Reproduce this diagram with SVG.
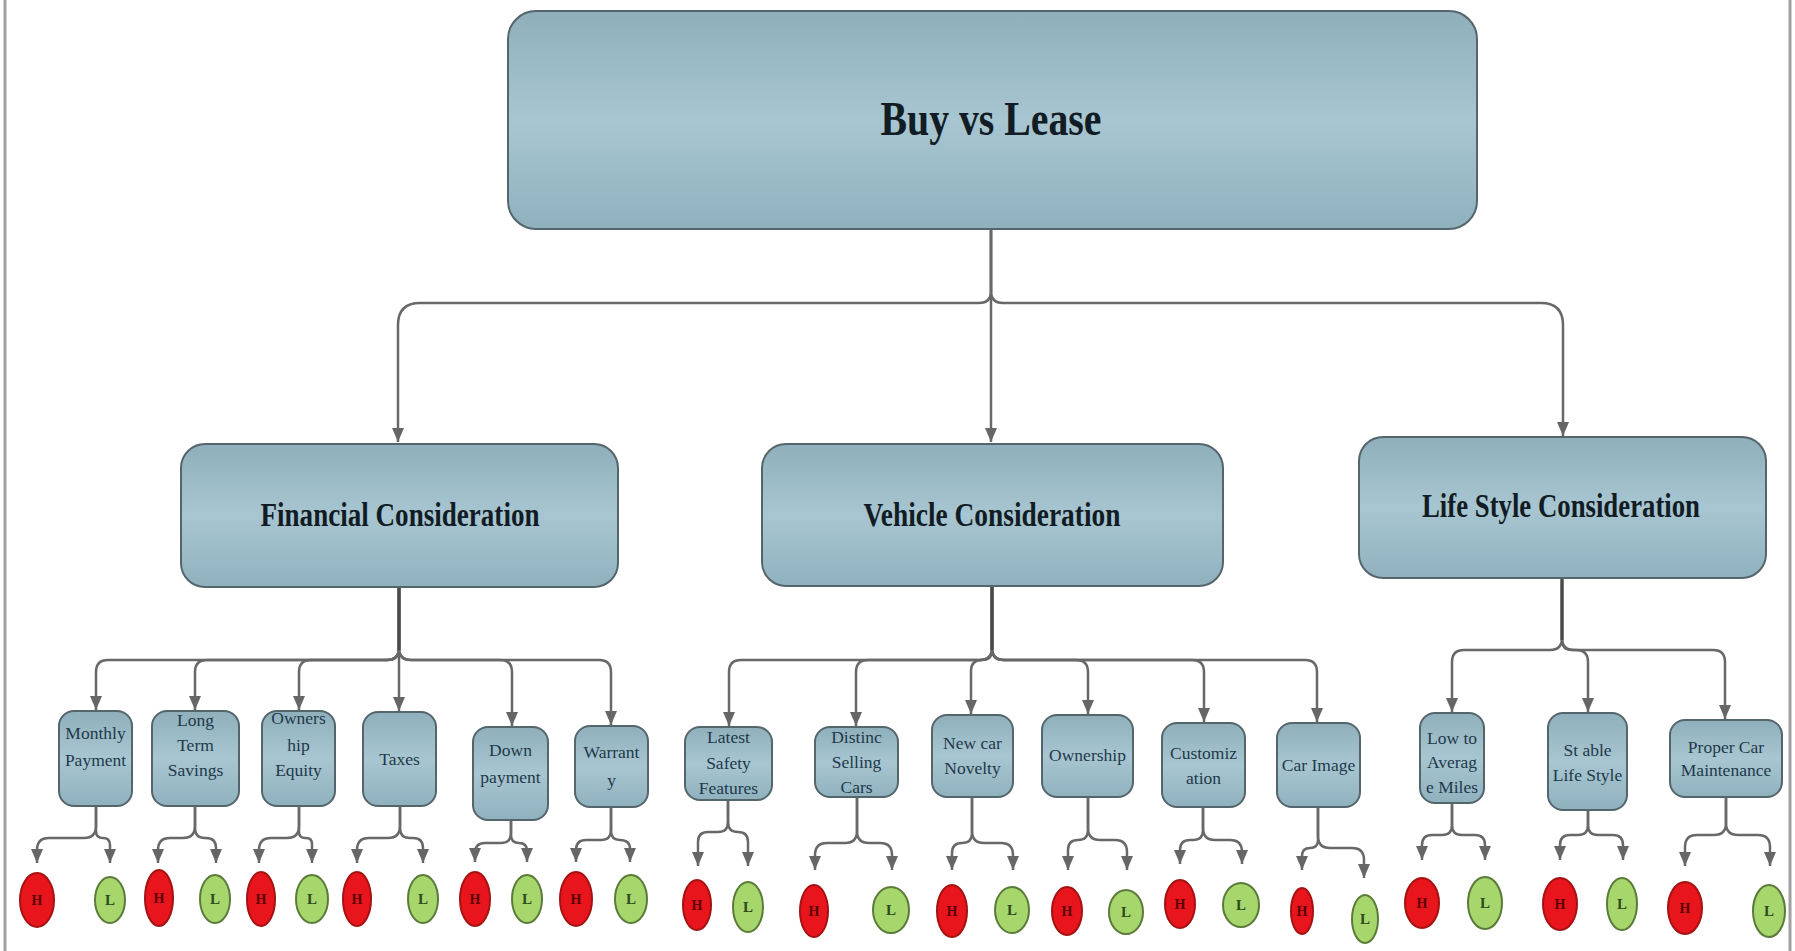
<svg xmlns="http://www.w3.org/2000/svg" width="1795" height="951" viewBox="0 0 1795 951">
<style>
.box{fill:url(#g);stroke:#55656c;stroke-width:2}
.t1{font-family:"Liberation Serif",serif;font-weight:bold;fill:#121c24;text-anchor:middle}
.t2{font-family:"Liberation Serif",serif;font-size:17.5px;fill:#22394a;text-anchor:middle}
.c{fill:none;stroke:#686868;stroke-width:2.5;marker-end:url(#ah)}
.cv{fill:none;stroke:#4a4a4a;stroke-width:3}
.h{fill:#e8161c;stroke:#a51212;stroke-width:2}
.l{fill:#a7d76c;stroke:#5b7b3a;stroke-width:2}
.ht{font-family:"Liberation Serif",serif;font-size:14px;font-weight:bold;fill:#5a0000;text-anchor:middle}
.lt{font-family:"Liberation Serif",serif;font-size:15px;font-weight:bold;fill:#2f4a1c;text-anchor:middle}
</style>
<defs>
<linearGradient id="g" x1="0" y1="0" x2="0" y2="1">
<stop offset="0" stop-color="#8eafbb"/>
<stop offset="0.5" stop-color="#a8c6d1"/>
<stop offset="1" stop-color="#8fb1be"/>
</linearGradient>
<marker id="ah" viewBox="0 0 14 12" refX="14" refY="6" markerWidth="14" markerHeight="12" markerUnits="userSpaceOnUse" orient="auto">
<path d="M0,0 L14,6 L0,12 z" fill="#666"/>
</marker>
</defs>
<rect width="1795" height="951" fill="#fff"/>
<line x1="5" y1="0" x2="5" y2="951" stroke="#a0a0a0" stroke-width="3"/>
<line x1="1790" y1="0" x2="1790" y2="951" stroke="#a0a0a0" stroke-width="3"/>

<g id="connectors">
<path class="c" d="M991,229 V291 Q991,303 979,303 H420 Q398,303 398,325 V442"/>
<path class="c" d="M991,229 V442"/>
<path class="c" d="M991,229 V291 Q991,303 1003,303 H1541 Q1563,303 1563,325 V436"/>

<path class="c" d="M399,587 V648 Q399,660 387,660 H108 Q96,660 96,672 V710"/>
<path class="c" d="M399,587 V648 Q399,660 387,660 H207 Q195,660 195,672 V710"/>
<path class="c" d="M399,587 V648 Q399,660 387,660 H311 Q299,660 299,672 V710"/>
<path class="c" d="M399,587 V711"/>
<path class="c" d="M399,587 V648 Q399,660 411,660 H500 Q512,660 512,672 V726"/>
<path class="c" d="M399,587 V648 Q399,660 411,660 H599 Q611,660 611,672 V725"/>
<path class="cv" d="M399,588 V650"/>

<path class="c" d="M992,586 V648 Q992,660 980,660 H741 Q729,660 729,672 V726"/>
<path class="c" d="M992,586 V648 Q992,660 980,660 H868 Q856,660 856,672 V726"/>
<path class="c" d="M992,586 V650 Q992,660 982,660 Q971,660 971,671 V714"/>
<path class="c" d="M992,586 V648 Q992,660 1004,660 H1076 Q1088,660 1088,672 V714"/>
<path class="c" d="M992,586 V648 Q992,660 1004,660 H1192 Q1204,660 1204,672 V722"/>
<path class="c" d="M992,586 V648 Q992,660 1004,660 H1305 Q1317,660 1317,672 V722"/>
<path class="cv" d="M992,587 V650"/>

<path class="c" d="M1562,578 V638 Q1562,650 1550,650 H1464 Q1452,650 1452,662 V712"/>
<path class="c" d="M1562,578 V640 Q1562,650 1572,650 H1576 Q1588,650 1588,662 V712"/>
<path class="c" d="M1562,578 V638 Q1562,650 1574,650 H1713 Q1725,650 1725,662 V719"/>
<path class="cv" d="M1562,579 V640"/>

<path class="c" d="M96,806 V826 Q96,838 84,838 H49 Q37,838 37,850 V863"/>
<path class="c" d="M96,806 V831 Q96,838 103,838 Q110,838 110,845 V863"/>
<path class="c" d="M195,806 V826 Q195,838 183,838 H170 Q158,838 158,850 V863"/>
<path class="c" d="M195,806 V828 Q195,838 205,838 H206 Q216,838 216,848 V863"/>
<path class="c" d="M299,806 V826 Q299,838 287,838 H271 Q259,838 259,850 V863"/>
<path class="c" d="M299,806 V832 Q299,838 305,838 H306 Q312,838 312,844 V863"/>
<path class="c" d="M400,806 V826 Q400,838 388,838 H369 Q357,838 357,850 V863"/>
<path class="c" d="M400,806 V828 Q400,838 410,838 H413 Q423,838 423,848 V863"/>
<path class="c" d="M511,820 V833 Q511,843 501,843 H485 Q475,843 475,853 V862"/>
<path class="c" d="M511,820 V835 Q511,843 519,843 Q527,843 527,851 V862"/>
<path class="c" d="M611,807 V830 Q611,840 601,840 H586 Q576,840 576,850 V862"/>
<path class="c" d="M611,807 V831 Q611,840 620,840 Q630,840 630,849 V862"/>

<path class="c" d="M728,800 V822 Q728,832 718,832 H708 Q698,832 698,842 V866"/>
<path class="c" d="M728,800 V822 Q728,832 738,832 Q748,832 748,842 V866"/>
<path class="c" d="M857,797 V831 Q857,843 845,843 H827 Q815,843 815,855 V870"/>
<path class="c" d="M857,797 V831 Q857,843 869,843 H880 Q892,843 892,855 V870"/>
<path class="c" d="M972,797 V833 Q972,843 962,843 Q952,843 952,853 V870"/>
<path class="c" d="M972,797 V831 Q972,843 984,843 H1001 Q1013,843 1013,855 V870"/>
<path class="c" d="M1088,797 V830 Q1088,840 1078,840 Q1068,840 1068,850 V870"/>
<path class="c" d="M1088,797 V828 Q1088,840 1100,840 H1115 Q1127,840 1127,852 V870"/>
<path class="c" d="M1203,807 V830 Q1203,840 1193,840 H1190 Q1180,840 1180,850 V864"/>
<path class="c" d="M1203,807 V828 Q1203,840 1215,840 H1230 Q1242,840 1242,852 V864"/>
<path class="c" d="M1318,807 V840 Q1318,848 1310,848 Q1302,848 1302,856 V870"/>
<path class="c" d="M1318,807 V836 Q1318,848 1330,848 H1352 Q1364,848 1364,860 V878"/>

<path class="c" d="M1452,803 V825 Q1452,835 1442,835 H1432 Q1422,835 1422,845 V860"/>
<path class="c" d="M1452,803 V825 Q1452,835 1462,835 H1475 Q1485,835 1485,845 V860"/>
<path class="c" d="M1588,810 V825 Q1588,835 1578,835 H1570 Q1560,835 1560,845 V860"/>
<path class="c" d="M1588,810 V825 Q1588,835 1598,835 H1613 Q1623,835 1623,845 V860"/>
<path class="c" d="M1726,797 V823 Q1726,835 1714,835 H1697 Q1685,835 1685,847 V866"/>
<path class="c" d="M1726,797 V823 Q1726,835 1738,835 H1758 Q1770,835 1770,847 V866"/>
</g>

<g id="root">
<rect class="box" x="508" y="11" width="969" height="218" rx="28"/>
<text class="t1" x="991" y="135" font-size="48" textLength="221" lengthAdjust="spacingAndGlyphs">Buy vs Lease</text>
</g>

<g id="financial">
<rect class="box" x="181" y="444" width="437" height="143" rx="24"/>
<text class="t1" x="400" y="526" font-size="34" textLength="279" lengthAdjust="spacingAndGlyphs">Financial Consideration</text>
</g>
<g id="vehicle">
<rect class="box" x="762" y="444" width="461" height="142" rx="24"/>
<text class="t1" x="992" y="526" font-size="34" textLength="257" lengthAdjust="spacingAndGlyphs">Vehicle Consideration</text>
</g>
<g id="lifestyle">
<rect class="box" x="1359" y="437" width="407" height="141" rx="24"/>
<text class="t1" x="1561" y="517" font-size="34" textLength="278" lengthAdjust="spacingAndGlyphs">Life Style Consideration</text>
</g>

<g id="monthly-payment">
<rect class="box" x="59" y="711" width="73" height="95" rx="15"/>
<text class="t2" x="95.5" y="739">Monthly</text>
<text class="t2" x="95.5" y="766">Payment</text>
</g>
<g id="long-term-savings">
<rect class="box" x="152" y="711" width="87" height="95" rx="15"/>
<text class="t2" x="195.5" y="726">Long</text>
<text class="t2" x="195.5" y="751">Term</text>
<text class="t2" x="195.5" y="776">Savings</text>
</g>
<g id="ownership-equity">
<rect class="box" x="262" y="711" width="73" height="95" rx="15"/>
<text class="t2" x="298.5" y="724">Owners</text>
<text class="t2" x="298.5" y="751">hip</text>
<text class="t2" x="298.5" y="776">Equity</text>
</g>
<g id="taxes">
<rect class="box" x="363" y="712" width="73" height="94" rx="15"/>
<text class="t2" x="399.5" y="765">Taxes</text>
</g>
<g id="down-payment">
<rect class="box" x="473" y="727" width="75" height="93" rx="15"/>
<text class="t2" x="510.5" y="756">Down</text>
<text class="t2" x="510.5" y="783">payment</text>
</g>
<g id="warranty">
<rect class="box" x="575" y="726" width="73" height="81" rx="15"/>
<text class="t2" x="611.5" y="758">Warrant</text>
<text class="t2" x="611.5" y="786">y</text>
</g>

<g id="latest-safety">
<rect class="box" x="685" y="727" width="87" height="73" rx="15"/>
<text class="t2" x="728.5" y="743">Latest</text>
<text class="t2" x="728.5" y="769">Safety</text>
<text class="t2" x="728.5" y="794">Features</text>
</g>
<g id="distinct-selling">
<rect class="box" x="815" y="727" width="83" height="70" rx="15"/>
<text class="t2" x="856.5" y="743">Distinc</text>
<text class="t2" x="856.5" y="768">Selling</text>
<text class="t2" x="856.5" y="793">Cars</text>
</g>
<g id="new-car-novelty">
<rect class="box" x="932" y="715" width="81" height="82" rx="15"/>
<text class="t2" x="972.5" y="749">New car</text>
<text class="t2" x="972.5" y="774">Novelty</text>
</g>
<g id="ownership">
<rect class="box" x="1042" y="715" width="91" height="82" rx="15"/>
<text class="t2" x="1087.5" y="761">Ownership</text>
</g>
<g id="customization">
<rect class="box" x="1162" y="723" width="83" height="84" rx="15"/>
<text class="t2" x="1203.5" y="759">Customiz</text>
<text class="t2" x="1203.5" y="784">ation</text>
</g>
<g id="car-image">
<rect class="box" x="1277" y="723" width="83" height="84" rx="15"/>
<text class="t2" x="1318.5" y="771">Car Image</text>
</g>

<g id="low-average-miles">
<rect class="box" x="1420" y="713" width="64" height="90" rx="15"/>
<text class="t2" x="1452" y="744">Low to</text>
<text class="t2" x="1452" y="768">Averag</text>
<text class="t2" x="1452" y="793">e Miles</text>
</g>
<g id="stable-life-style">
<rect class="box" x="1548" y="713" width="79" height="97" rx="15"/>
<text class="t2" x="1587.5" y="756">St able</text>
<text class="t2" x="1587.5" y="781">Life Style</text>
</g>
<g id="proper-car-maintenance">
<rect class="box" x="1670" y="720" width="112" height="77" rx="15"/>
<text class="t2" x="1726" y="753">Proper Car</text>
<text class="t2" x="1726" y="776">Maintenance</text>
</g>

<g id="leaves">
<g id="h1"><ellipse class="h" cx="37" cy="900" rx="17" ry="27"/><text class="ht" x="37" y="905">H</text></g>
<g id="l1"><ellipse class="l" cx="110" cy="900" rx="15" ry="23"/><text class="lt" x="110" y="905">L</text></g>
<g id="h2"><ellipse class="h" cx="159" cy="898" rx="14" ry="28"/><text class="ht" x="159" y="903">H</text></g>
<g id="l2"><ellipse class="l" cx="215" cy="899" rx="15" ry="24"/><text class="lt" x="215" y="904">L</text></g>
<g id="h3"><ellipse class="h" cx="261" cy="899" rx="14" ry="27"/><text class="ht" x="261" y="904">H</text></g>
<g id="l3"><ellipse class="l" cx="312" cy="899" rx="16" ry="24"/><text class="lt" x="312" y="904">L</text></g>
<g id="h4"><ellipse class="h" cx="357" cy="899" rx="14" ry="27"/><text class="ht" x="357" y="904">H</text></g>
<g id="l4"><ellipse class="l" cx="423" cy="899" rx="15" ry="24"/><text class="lt" x="423" y="904">L</text></g>
<g id="h5"><ellipse class="h" cx="475" cy="899" rx="15" ry="27"/><text class="ht" x="475" y="904">H</text></g>
<g id="l5"><ellipse class="l" cx="527" cy="899" rx="15" ry="24"/><text class="lt" x="527" y="904">L</text></g>
<g id="h6"><ellipse class="h" cx="576" cy="899" rx="16" ry="27"/><text class="ht" x="576" y="904">H</text></g>
<g id="l6"><ellipse class="l" cx="631" cy="899" rx="16" ry="24"/><text class="lt" x="631" y="904">L</text></g>
<g id="h7"><ellipse class="h" cx="697" cy="905" rx="14" ry="25"/><text class="ht" x="697" y="910">H</text></g>
<g id="l7"><ellipse class="l" cx="748" cy="907" rx="15" ry="25"/><text class="lt" x="748" y="912">L</text></g>
<g id="h8"><ellipse class="h" cx="814" cy="911" rx="14" ry="26"/><text class="ht" x="814" y="916">H</text></g>
<g id="l8"><ellipse class="l" cx="891" cy="910" rx="18" ry="23"/><text class="lt" x="891" y="915">L</text></g>
<g id="h9"><ellipse class="h" cx="952" cy="911" rx="15" ry="26"/><text class="ht" x="952" y="916">H</text></g>
<g id="l9"><ellipse class="l" cx="1012" cy="910" rx="17" ry="23"/><text class="lt" x="1012" y="915">L</text></g>
<g id="h10"><ellipse class="h" cx="1067" cy="911" rx="15" ry="24"/><text class="ht" x="1067" y="916">H</text></g>
<g id="l10"><ellipse class="l" cx="1126" cy="912" rx="17" ry="22"/><text class="lt" x="1126" y="917">L</text></g>
<g id="h11"><ellipse class="h" cx="1180" cy="904" rx="15" ry="24"/><text class="ht" x="1180" y="909">H</text></g>
<g id="l11"><ellipse class="l" cx="1241" cy="905" rx="18" ry="22"/><text class="lt" x="1241" y="910">L</text></g>
<g id="h12"><ellipse class="h" cx="1302" cy="911" rx="11" ry="23"/><text class="ht" x="1302" y="916">H</text></g>
<g id="l12"><ellipse class="l" cx="1365" cy="919" rx="13" ry="24"/><text class="lt" x="1365" y="924">L</text></g>
<g id="h13"><ellipse class="h" cx="1422" cy="903" rx="17" ry="25"/><text class="ht" x="1422" y="908">H</text></g>
<g id="l13"><ellipse class="l" cx="1485" cy="903" rx="17" ry="26"/><text class="lt" x="1485" y="908">L</text></g>
<g id="h14"><ellipse class="h" cx="1560" cy="904" rx="17" ry="26"/><text class="ht" x="1560" y="909">H</text></g>
<g id="l14"><ellipse class="l" cx="1622" cy="904" rx="15" ry="26"/><text class="lt" x="1622" y="909">L</text></g>
<g id="h15"><ellipse class="h" cx="1685" cy="908" rx="17" ry="26"/><text class="ht" x="1685" y="913">H</text></g>
<g id="l15"><ellipse class="l" cx="1769" cy="911" rx="16" ry="26"/><text class="lt" x="1769" y="916">L</text></g>
</g>
</svg>
